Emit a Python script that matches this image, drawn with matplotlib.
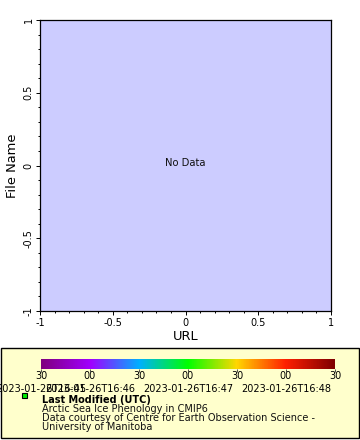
import matplotlib

matplotlib.use("Agg")
import matplotlib.pyplot as plt
import numpy as np
from matplotlib.colors import LinearSegmentedColormap
from matplotlib.patches import Rectangle
from matplotlib.ticker import MultipleLocator

plt.rcParams.update({"font.family": "DejaVu Sans", "axes.unicode_minus": False})

W, H = 360, 440

# axis range and ticks
x_range = [-1, 1]
y_range = [-1, 1]
major_ticks = [-1, -0.5, 0, 0.5, 1]
tick_labels = ["-1", "-0.5", "0", "0.5", "1"]

# colour bar (seconds after 16:45:30)
cbar_ticks = [0, 30, 60, 90, 120, 150, 180]
sec_labels = ["30", "00", "30", "00", "30", "00", "30"]
date_labels = ["2023-01-26T16:45", "2023-01-26T16:46", "", "2023-01-26T16:47",
               "", "2023-01-26T16:48", ""]
cbar_colors = ["#800080", "#a000ff", "#00b0ff", "#00ff00", "#ffd700", "#ff2000", "#800000"]

legend_lines = ["Arctic Sea Ice Phenology in CMIP6",
                "Data courtesy of Centre for Earth Observation Science -",
                "University of Manitoba"]


def fx(px):
    return px / W


def fy(py):
    return 1 - py / H


fig = plt.figure(figsize=(W / 100, H / 100), dpi=100)
fig.patch.set_facecolor("white")

ax = fig.add_axes([fx(40), fy(311), fx(291), 291 / H])
ax.set_facecolor("#ccccff")
ax.set_xlim(*x_range)
ax.set_ylim(*y_range)
ax.set_xticks(major_ticks)
ax.set_xticklabels(tick_labels)
ax.set_yticks(major_ticks)
ax.set_yticklabels(tick_labels, rotation=90, va="center")
ax.xaxis.set_minor_locator(MultipleLocator(0.1))
ax.yaxis.set_minor_locator(MultipleLocator(0.1))
ax.tick_params(which="major", direction="out", length=3.2, width=0.7, labelsize=7, pad=1.5)
ax.tick_params(which="minor", direction="out", length=1.6, width=0.7)
for s in ax.spines.values():
    s.set_linewidth(0.9)
ax.set_xlabel("URL", fontsize=9.4, labelpad=2)
ax.set_ylabel("File Name", fontsize=9.4, labelpad=3)
ax.text(0.5, 0.51, "No Data", transform=ax.transAxes, ha="center", va="center",
        fontsize=7.2, color="#111111")

# legend panel
fig.patches.append(Rectangle((fx(0.5), fy(438)), fx(358.5), 90 / H, transform=fig.transFigure,
                             facecolor="#ffffcc", edgecolor="black", linewidth=1.0, zorder=-5))

cax = fig.add_axes([fx(41), fy(369), fx(294), 10 / H])
cax.set_zorder(5)
cmap = LinearSegmentedColormap.from_list("cb", cbar_colors)
grad = np.linspace(cbar_ticks[0], cbar_ticks[-1], 400)[None, :]
cax.imshow(grad, aspect="auto", cmap=cmap,
           extent=[cbar_ticks[0], cbar_ticks[-1], 0, 1])
cax.set_yticks([])
cax.set_xticks(cbar_ticks)
cax.set_xticklabels([])
cax.tick_params(axis="x", length=2, width=0.6, color="#333333")
for s in cax.spines.values():
    s.set_visible(False)
for t, sl, dl in zip(cbar_ticks, sec_labels, date_labels):
    xf = fx(41 + 294 * (t - cbar_ticks[0]) / (cbar_ticks[-1] - cbar_ticks[0]))
    fig.text(xf, fy(376), sl, ha="center", va="center", fontsize=7)
    if dl:
        fig.text(xf, fy(389), dl, ha="center", va="center", fontsize=7)

fig.patches.append(Rectangle((fx(21.5), fy(397.5)), fx(5), 5 / H, transform=fig.transFigure,
                             facecolor="#00ee00", edgecolor="black", linewidth=0.8))
fig.text(fx(42), fy(400), "Last Modified (UTC)", ha="left", va="center", fontsize=7,
         fontweight="bold")
for i, line in enumerate(legend_lines):
    fig.text(fx(42), fy(409 + 9 * i), line, ha="left", va="center", fontsize=7,
             color="#111111")

fig.savefig("out.png", dpi=100)
